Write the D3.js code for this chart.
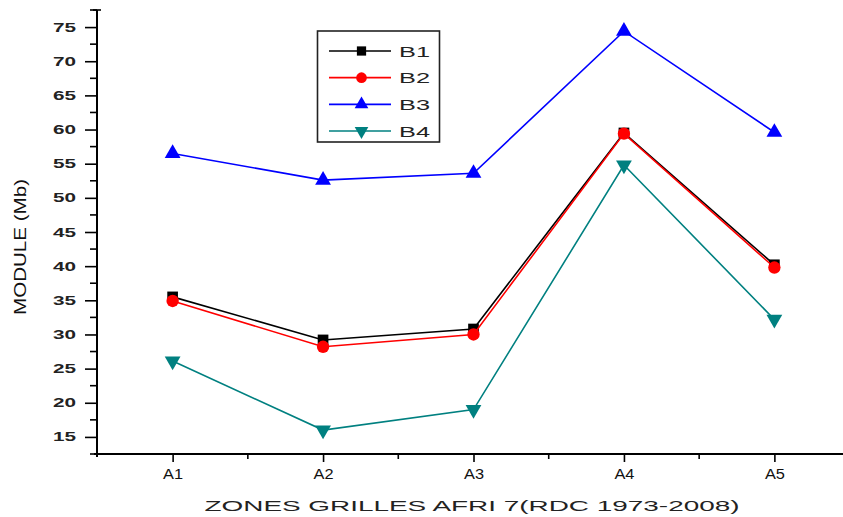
<!DOCTYPE html>
<html>
<head>
<meta charset="utf-8">
<script src="https://cdn.jsdelivr.net/npm/d3@7"></script>
<style>
  html, body { margin: 0; padding: 0; background: #fff; }
  svg { display: block; font-family: "Liberation Sans", Arial, sans-serif; }
</style>
</head>
<body>
<svg id="chart" width="843" height="517"></svg>
<script>
const categories = ["A1", "A2", "A3", "A4", "A5"];
const seriesNames = ["B1", "B2", "B3", "B4"];
const seriesColors = ["#000000", "#ff0000", "#0000ff", "#008080"];
const seriesSymbols = ["square", "circle", "triangle", "triangleDown"];
const B1 = [35.5, 29.2, 30.8, 59.5, 40.2];
const B2 = [34.9, 28.2, 30.0, 59.4, 39.8];
const B3 = [56.5, 52.6, 53.6, 74.4, 59.6];
const B4 = [26.1, 16.0, 19.0, 54.8, 32.2];
const yTicks = [15, 20, 25, 30, 35, 40, 45, 50, 55, 60, 65, 70, 75];
const xTitle = "ZONES GRILLES AFRI 7(RDC 1973-2008)";
const yTitle = "MODULE (Mb)";

const seriesValues = [B1, B2, B3, B4];

const svg = d3.select("#chart");

const x = d3.scaleLinear().domain([0.5, 5.5]).range([97.4, 849.6]);
const y = d3.scaleLinear().domain([12.5, 77.5]).range([454, 10]);

// Y axis
const yAxis = d3.axisLeft(y).tickValues(yTicks).tickSize(12).tickPadding(9).tickFormat(d3.format("d"));
const gy = svg.append("g").attr("transform", "translate(97,0)").call(yAxis);
gy.select(".domain").remove();
gy.selectAll(".tick line").attr("stroke", "#000").attr("stroke-width", 1.6);
gy.selectAll(".tick text")
  .attr("font-size", 12.5).attr("font-weight", "bold").attr("fill", "#222")
  .attr("textLength", 23).attr("lengthAdjust", "spacingAndGlyphs");
// minor y ticks
const yMinor = d3.range(12.5, 77.6, 5);
svg.append("g").selectAll("line").data(yMinor).join("line")
  .attr("x1", 90).attr("x2", 97)
  .attr("y1", d => y(d)).attr("y2", d => y(d))
  .attr("stroke", "#000").attr("stroke-width", 1.6);

// X axis
const xAxis = d3.axisBottom(x).tickValues([1, 2, 3, 4, 5]).tickSize(8).tickPadding(7)
  .tickFormat((d, i) => categories[i]);
const gx = svg.append("g").attr("transform", "translate(0,454)").call(xAxis);
gx.select(".domain").remove();
gx.selectAll(".tick line").attr("stroke", "#000").attr("stroke-width", 1.6);
gx.selectAll(".tick text")
  .attr("font-size", 14).attr("fill", "#111")
  .attr("textLength", 20).attr("lengthAdjust", "spacingAndGlyphs");
const xMinor = [1.5, 2.5, 3.5, 4.5];
svg.append("g").selectAll("line").data(xMinor).join("line")
  .attr("x1", d => x(d)).attr("x2", d => x(d))
  .attr("y1", 454).attr("y2", 459)
  .attr("stroke", "#000").attr("stroke-width", 1.6);

// axis lines
svg.append("line").attr("x1", 97).attr("x2", 97).attr("y1", 10).attr("y2", 457)
  .attr("stroke", "#000").attr("stroke-width", 2);
svg.append("line").attr("x1", 94).attr("x2", 843).attr("y1", 454).attr("y2", 454)
  .attr("stroke", "#000").attr("stroke-width", 2);
svg.append("line").attr("x1", 93).attr("x2", 101).attr("y1", 10).attr("y2", 10)
  .attr("stroke", "#000").attr("stroke-width", 1.6);

// Titles
svg.append("text").attr("x", 472).attr("y", 511).attr("text-anchor", "middle")
  .attr("font-size", 15).attr("fill", "#222")
  .attr("textLength", 535).attr("lengthAdjust", "spacingAndGlyphs")
  .text(xTitle);
svg.append("text").attr("transform", "translate(26,247) rotate(-90)")
  .attr("text-anchor", "middle").attr("font-size", 16).attr("fill", "#111")
  .attr("textLength", 136).attr("lengthAdjust", "spacingAndGlyphs")
  .text(yTitle);

// symbols
function symbolPath(kind, size) {
  const map = {
    square: d3.symbol().type(d3.symbolSquare).size(size * 0.95),
    circle: d3.symbol().type(d3.symbolCircle).size(size),
    triangle: d3.symbol().type(d3.symbolTriangle).size(size * 0.9),
    triangleDown: d3.symbol().type(d3.symbolTriangle).size(size * 0.9)
  };
  return map[kind]();
}

const line = d3.line().x((d, i) => x(i + 1)).y(d => y(d));

seriesValues.forEach((vals, s) => {
  const g = svg.append("g");
  g.append("path").datum(vals).attr("d", line)
    .attr("fill", "none").attr("stroke", seriesColors[s]).attr("stroke-width", 1.6);
  g.selectAll("path.m").data(vals).join("path").attr("class", "m")
    .attr("d", symbolPath(seriesSymbols[s], 120))
    .attr("transform", (d, i) => `translate(${x(i + 1)},${y(d)})` + (seriesSymbols[s] === "triangleDown" ? " rotate(180)" : ""))
    .attr("fill", seriesColors[s]);
});

// Legend
const lg = svg.append("g");
lg.append("rect").attr("x", 317.5).attr("y", 31).attr("width", 122).attr("height", 111)
  .attr("fill", "#fff").attr("stroke", "#222").attr("stroke-width", 1.6);
const rowY = d3.scaleLinear().domain([0, 3]).range([51, 131]);
seriesNames.forEach((name, s) => {
  const yy = rowY(s);
  lg.append("line").attr("x1", 329).attr("x2", 391).attr("y1", yy).attr("y2", yy)
    .attr("stroke", seriesColors[s]).attr("stroke-width", 1.6);
  lg.append("path").attr("d", symbolPath(seriesSymbols[s], 90))
    .attr("transform", `translate(361.5,${yy})` + (seriesSymbols[s] === "triangleDown" ? " rotate(180)" : ""))
    .attr("fill", seriesColors[s]);
  lg.append("text").attr("x", 399).attr("y", yy + 5.5).attr("font-size", 15).attr("fill", "#222")
    .attr("textLength", 31).attr("lengthAdjust", "spacingAndGlyphs")
    .text(name);
});
</script>
</body>
</html>
